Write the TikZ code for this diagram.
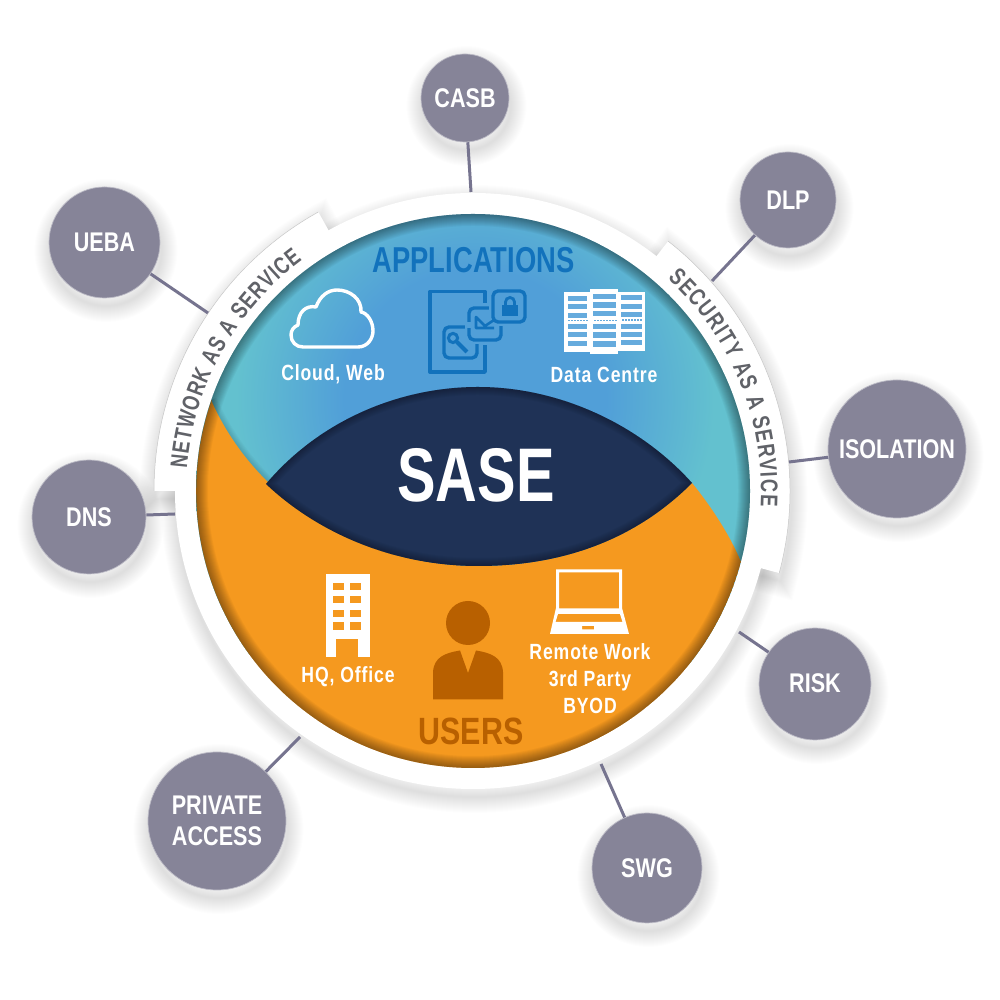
\documentclass[tikz,border=0pt]{standalone}
\usepackage{fontspec}
\usetikzlibrary{decorations.text}
\newfontfamily\cond[FakeStretch=0.80]{Liberation Sans}
\newfontfamily\condn[FakeStretch=0.76]{Liberation Sans}
\newfontfamily\condsp[FakeStretch=0.80,LetterSpace=4]{Liberation Sans}
\definecolor{bluec}{HTML}{519FD8}
\definecolor{tealc}{HTML}{63C1CF}
\definecolor{orangec}{HTML}{F5991F}
\definecolor{navyc}{HTML}{1F3256}
\definecolor{satc}{HTML}{868498}
\definecolor{connc}{HTML}{76748F}
\definecolor{appc}{HTML}{1272BC}
\definecolor{userc}{HTML}{B86000}
\definecolor{grayc}{HTML}{606268}
\pgfdeclareradialshading{bluet}{\pgfpoint{0bp}{0bp}}{color(0bp)=(bluec); color(9.6bp)=(bluec); color(17.6bp)=(tealc); color(50bp)=(tealc)}
\newcommand{\softshadow}[1]{\foreach \w in {2,4,...,32}{\draw[black,opacity=.0095,line width=\w pt,shift={(1.5,8)}] #1;}}
\newcommand{\innershade}[1]{\foreach \w in {2,4,...,24}{\draw[black,opacity=.035,line width=\w pt] #1;}}
\tikzset{
  sat/.style={circle,fill=satc,draw=satc!55!white,line width=.7pt,inner sep=0pt,text=white,align=center,
    font=\cond\bfseries\fontsize{27}{31}\selectfont},
  whitetext/.style={text=white,align=center,inner sep=0pt,font=\condsp\bfseries\fontsize{22}{27}\selectfont},
  conn/.style={draw=connc,line width=3pt},
  appline/.style={draw=appc,line width=3.4pt,line join=round},
  slot/.style={fill=bluec!88!white},
}
\begin{document}
\begin{tikzpicture}[x=1pt,y=1pt]
\fill[white] (0,0) rectangle (1000,1000);
\path[use as bounding box] (0,0) rectangle (1000,1000);
\begin{scope}[shift={(0,1000)},yscale=-1]
% shadows
\def\ringpath{(473,491) circle (298)}
\def\secN{(473,491) -- ++(180:319) arc (180:241:319) -- cycle}
\def\secS{(473,491) -- ++(-52:317) arc (-52:15:317) -- cycle}
\softshadow{\ringpath}
\softshadow{\secN}
\softshadow{\secS}
\softshadow{(465,98) circle (44)}
\softshadow{(788,200) circle (48)}
\softshadow{(104.5,242.5) circle (55.5)}
\softshadow{(89,517) circle (57)}
\softshadow{(897,449) circle (69)}
\softshadow{(815,684) circle (56)}
\softshadow{(217,821) circle (69)}
\softshadow{(647,868) circle (55)}
% ring
\fill[white] \secN;
\fill[white] \secS;
\draw[black!22,line width=.5pt] (473,491) ++(180:319) arc (180:241:319);
\draw[black!22,line width=.5pt] (473,491) ++(-52:317) arc (-52:15:317);
\fill[white] \ringpath;
% disc
\begin{scope}
\clip (473,491) circle (277);
\shade[shading=bluet] (475,400) circle (340);
\foreach \w in {2,4,...,12}{\draw[black,opacity=.022,line width=\w pt] (211,400) .. controls (255,500) and (360,566) .. (478,566);}
\fill[orangec] (211,400) .. controls (255,500) and (360,566) .. (478,566) .. controls (570,566) and (640,535) .. (692,483) .. controls (710,505) and (730,535) .. (741,562) arc (14.8:199.2:277) -- cycle;
\begin{scope}
\def\lenspath{(266,484) .. controls (320,420) and (400,387) .. (478,387) .. controls (560,387) and (640,425) .. (692,483) .. controls (640,535) and (570,566) .. (478,566) .. controls (395,566) and (319,534) .. cycle}
\fill[navyc] \lenspath;
\clip \lenspath;
\foreach \w in {2,4,...,16}{\draw[black,opacity=.035,line width=\w pt] \lenspath;}
\end{scope}
\innershade{(473,491) circle (277)}
\end{scope}
% titles
\node[text=appc,inner sep=0pt,font=\condn\bfseries\fontsize{36}{36}\selectfont] (apps) at (473.5,260.5) {APPLICATIONS};
\node[text=white,inner sep=0pt,font=\condn\bfseries\fontsize{76}{76}\selectfont] (sase) at (476,475) {SASE};
\node[text=userc,inner sep=0pt,font=\cond\bfseries\fontsize{38}{38}\selectfont] (users) at (471,731) {USERS};
\node[whitetext] (cloudl) at (333,374) {Cloud, Web};
\node[whitetext] (datal) at (604,375) {Data Centre};
\node[whitetext] (hql) at (348,677) {HQ, Office};
\node[whitetext] (remotel) at (590,679) {Remote Work\\3rd Party\\BYOD};
% cloud icon
\draw[white,line width=3.4pt,line join=round] (303,347) -- (358,347) .. controls (368,347) and (373,338) .. (373,331)
  .. controls (373,321) and (367,313) .. (361,312) .. controls (362,299) and (350,290) .. (337,290)
  .. controls (328,290) and (320,296) .. (316,307) .. controls (306,305) and (298,312) .. (298,325)
  .. controls (293,327) and (291,331) .. (291,335) .. controls (291,342) and (296,347) .. (303,347) -- cycle;
% document icon
\draw[appline] (485,303) -- (485,291.5) -- (430,291.5) -- (430,372) -- (485,372) -- (485,345);
\draw[bluec,line width=8pt,rounded corners=5pt] (444,327) rectangle (477,358);
\draw[appline,rounded corners=5pt] (444,327) rectangle (477,358);
\draw[bluec,line width=8pt,fill=bluec,rounded corners=5pt] (469,308) rectangle (501,340);
\draw[appline,rounded corners=5pt] (469,308) rectangle (501,340);
\draw[bluec,line width=8pt,fill=bluec,rounded corners=5pt] (493,291) rectangle (525,322);
\draw[appline,rounded corners=5pt] (493,291) rectangle (525,322);
\fill[bluec] (466,322) rectangle (471,328);
% key
\draw[appc,line width=3pt] (453,338) circle (4.6);
\draw[appc,line width=4pt] (457,342) -- (467,352);
% envelope
\draw[appc,line width=2.6pt,line join=round] (494,328) -- (476,328) -- (476,317) -- (485,326) -- (494,320);
% padlock
\fill[appc] (502,305) rectangle (518,316.5);
\draw[appc,line width=2.8pt] (505.5,306) -- (505.5,302) arc (180:360:4.5) -- (514.5,306);
% servers
\fill[white] (564,292) rectangle (590,352);
\fill[white] (590,289) rectangle (618,354.5);
\fill[white] (618,292) rectangle (644.5,351);
\foreach \y in {296,304.5,313,324,332.5,341}{\fill[slot] (567.5,\y) rectangle (587,\y+5);}
\foreach \y in {294,302.5,311,324,332.5,341.5}{\fill[slot] (593,\y) rectangle (616,\y+5.2);}
\foreach \y in {295.5,304,312,324,332,340.5}{\fill[slot] (621,\y) rectangle (642,\y+5);}
\foreach \x in {568,571,...,586}{\fill[slot] (\x,320) rectangle (\x+1.5,321.5);}
\foreach \x in {594,597,...,615}{\fill[slot] (\x,320) rectangle (\x+1.5,321.5);}
\foreach \x in {622,625,...,642}{\fill[slot] (\x,319.5) rectangle (\x+1.5,321);}
% building
\fill[white] (326,574) rectangle (370,657);
\foreach \y/\h in {583/7.5,596/7.5,610/7.5,622/8}{
  \fill[orangec] (333,\y) rectangle (344,\y+\h);
  \fill[orangec] (350,\y) rectangle (361,\y+\h);}
\fill[orangec] (336,639) rectangle (358,657.5);
% person
\fill[userc] (468,623) circle (22);
\fill[userc] (433,699.5) -- (433,672) .. controls (434,657) and (445,653) .. (460,650.5) -- (468,673) -- (476,650.5)
  .. controls (491,653) and (502,657) .. (503,672) -- (503,699.5) -- cycle;
% laptop
\fill[white,even odd rule] (556,569.5) -- (622,569.5) -- (622,608) -- (629,634) -- (550,634) -- (556,608) -- cycle
  (559,572.5) rectangle (619,608.5)
  (558,614) -- (620,614) -- (622.5,622) -- (555.5,622) -- cycle
  (582,626) rectangle (594,629.5);
% satellites
\node[sat,minimum size=88pt] (casb) at (465,98) {CASB};
\node[sat,minimum size=96pt] (dlp) at (788,200) {DLP};
\node[sat,minimum size=111pt] (ueba) at (104.5,242.5) {UEBA};
\node[sat,minimum size=114pt] (dns) at (89,517) {DNS};
\node[sat,minimum size=138pt] (isolation) at (897,449) {ISOLATION};
\node[sat,minimum size=112pt] (risk) at (815,684) {\raisebox{2pt}{RISK}};
\node[sat,minimum size=138pt] (private) at (217,821) {PRIVATE\\ACCESS};
\node[sat,minimum size=110pt] (swg) at (647,868) {SWG};
% connectors
\coordinate (ca) at (471,192);
\coordinate (da) at (712,281);
\coordinate (ua) at (208,313);
\coordinate (na) at (175,514);
\coordinate (ia) at (789,462);
\coordinate (ra) at (739,632);
\coordinate (pa) at (300,737);
\coordinate (sa) at (601,764);
\draw[conn] (casb) -- (ca);
\draw[conn] (dlp) -- (da);
\draw[conn] (ueba) -- (ua);
\draw[conn] (dns) -- (na);
\draw[conn] (isolation) -- (ia);
\draw[conn] (risk) -- (ra);
\draw[conn] (private) -- (pa);
\draw[conn] (swg) -- (sa);
\end{scope}
% curved labels
\path[decorate,decoration={text along path,text align={fit to path},text color=grayc,
  text={|\condn\bfseries\fontsize{24}{24}\selectfont|NETWORK AS A SERVICE}}]
  ([shift={(473,509)}]175.5:287) arc (175.5:126.5:287);
\path[decorate,decoration={text along path,text align={fit to path},text color=grayc,
  text={|\condn\bfseries\fontsize{24}{24}\selectfont|SECURITY AS A SERVICE}}]
  ([shift={(473,509)}]47.5:288) arc (47.5:-3:288);
\end{tikzpicture}
\end{document}
